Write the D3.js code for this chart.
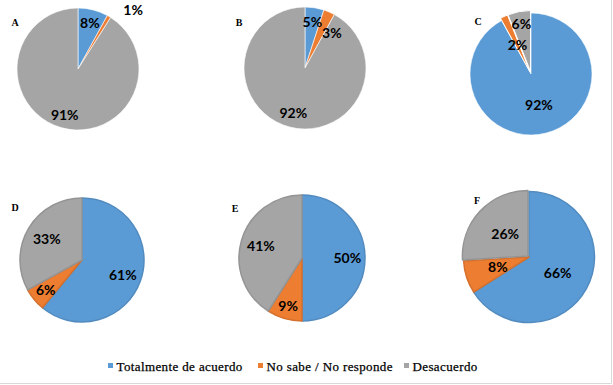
<!DOCTYPE html>
<html><head><meta charset="utf-8">
<script src="https://cdn.jsdelivr.net/npm/d3@7"></script>
<style>
html,body{margin:0;padding:0;background:#fff;}
svg{display:block;}
</style>
</head><body>
<svg id="chart" width="613" height="385"></svg>
<script>
// ---- data ----
const categories = ["Totalmente de acuerdo", "No sabe / No responde", "Desacuerdo"];
const chartNames = ["A", "B", "C", "D", "E", "F"];
const valuesA = [8, 1, 91];
const valuesB = [5, 3, 92];
const valuesC = [92, 2, 6];
const valuesD = [61, 6, 33];
const valuesE = [50, 9, 41];
const valuesF = [66, 8, 26];
const seriesValues = [valuesA, valuesB, valuesC, valuesD, valuesE, valuesF];
const colors = ["#5B9BD5", "#ED7D31", "#A5A5A5"];

// ---- layout (not data) ----
const layout = [
  {cx: 78,  cy: 69,  r: 61,   lx: 15,  ly: 26,  lf: 0.78, bevel: false, explode: [0,0,0], lab: [{}, {f:1.22, da:0.12, anchor:"start"}, {}]},
  {cx: 305, cy: 68,  r: 61,   lx: 239, ly: 26,  lf: 0.77, bevel: false, explode: [0,0,0], lab: [{}, {f:0.72, da:0.25}, {}]},
  {cx: 531, cy: 74,  r: 61,   lx: 478, ly: 25,  lf: 0.52, bevel: false, explode: [0,2.5,2.5], lab: [{}, {}, {f:0.84}]},
  {cx: 82,  cy: 260, r: 62,   lx: 15,  ly: 211, lf: 0.70, bevel: true,  explode: [0,0,0], lab: [{}, {f:0.76}, {f:0.66}]},
  {cx: 302, cy: 258, r: 63,   lx: 235, ly: 212, lf: 0.72, bevel: true,  explode: [0,0,0], lab: [{}, {f:0.79}, {f:0.68}]},
  {cx: 529, cy: 257, r: 65.5, lx: 477, ly: 204, lf: 0.50, bevel: true,  explode: [0,0,1.5], lab: [{}, {}, {}]}
];

const svg = d3.select("#chart");

// border on right and bottom
svg.append("line").attr("x1", 611.5).attr("x2", 611.5).attr("y1", 0).attr("y2", 383.5)
  .attr("stroke", "#d9d9d9").attr("stroke-width", 1);
svg.append("line").attr("x1", 0).attr("x2", 611.5).attr("y1", 383.5).attr("y2", 383.5)
  .attr("stroke", "#d9d9d9").attr("stroke-width", 1);

const pie = d3.pie().sort(null).value(d => d);

seriesValues.forEach((vals, i) => {
  const L = layout[i];
  const g = svg.append("g").attr("transform", `translate(${L.cx},${L.cy})`);
  const arcs = pie(vals);
  const arc = d3.arc().innerRadius(0).outerRadius(L.r);

  arcs.forEach((a, j) => {
    const mid = (a.startAngle + a.endAngle) / 2;
    const ex = L.explode[j];
    const dx = ex * Math.sin(mid), dy = -ex * Math.cos(mid);
    const c = d3.color(colors[j]);
    g.append("path")
      .attr("d", arc(a))
      .attr("transform", `translate(${dx},${dy})`)
      .attr("fill", colors[j])
      .attr("stroke", L.bevel ? c.darker(0.3).formatHex() : "#fff")
      .attr("stroke-width", L.bevel ? 1.5 : (ex > 0 ? 1 : 0.6))
      .attr("stroke-linejoin", "round");
  });

  // labels
  arcs.forEach((a, j) => {
    const o = L.lab[j] || {};
    const f = o.f || L.lf;
    const ang = (a.startAngle + a.endAngle) / 2 + (o.da || 0);
    const rr = f * L.r;
    const x = rr * Math.sin(ang), y = -rr * Math.cos(ang);
    g.append("text")
      .attr("x", x).attr("y", y)
      .attr("dy", "0.35em")
      .attr("text-anchor", o.anchor || "middle")
      .attr("font-family", "Lato, 'Open Sans', sans-serif")
      .attr("font-weight", "bold")
      .attr("font-size", 14)
      .attr("fill", "#000")
      .text(a.data + "%");
  });

  svg.append("text")
    .attr("x", L.lx).attr("y", L.ly)
    .attr("text-anchor", "middle")
    .attr("font-family", "'Liberation Serif', serif")
    .attr("font-size", 10)
    .attr("font-weight", "bold")
    .attr("fill", "#000")
    .text(chartNames[i]);
});

// legend
const legendX = [108, 258, 404];
const lg = svg.append("g");
categories.forEach((name, j) => {
  lg.append("rect").attr("x", legendX[j]).attr("y", 363).attr("width", 5).attr("height", 5)
    .attr("fill", colors[j]);
  lg.append("text").attr("x", legendX[j] + 8.5).attr("y", 366).attr("dy", "0.35em")
    .attr("font-family", "'Liberation Serif', serif")
    .attr("font-size", 13)
    .attr("letter-spacing", 0.38)
    .attr("stroke", "#000").attr("stroke-width", 0.25)
    .attr("fill", "#000")
    .text(name);
});
</script>
</body></html>
